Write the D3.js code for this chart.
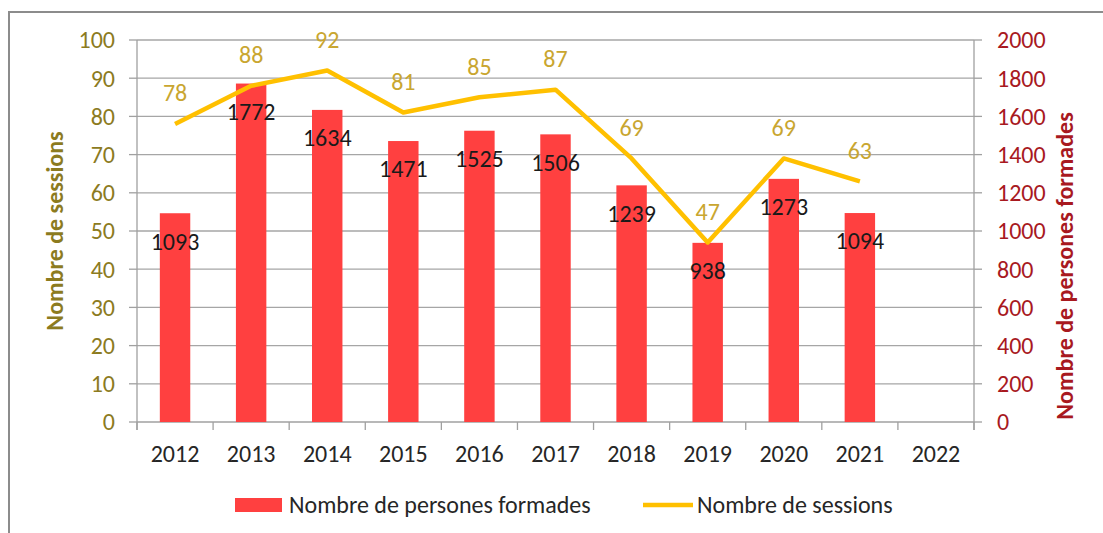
<!DOCTYPE html>
<html>
<head>
<meta charset="utf-8">
<script src="https://cdn.jsdelivr.net/npm/d3@7"></script>
<style>
  body { margin: 0; background: #fff; }
  text { font-family: Carlito, Lato, sans-serif; }
</style>
</head>
<body>
<svg id="chart" width="1103" height="533"></svg>
<script>
// data
let years = ["2012", "2013", "2014", "2015", "2016", "2017", "2018", "2019", "2020", "2021", "2022"]
let personnes = [1093, 1772, 1634, 1471, 1525, 1506, 1239, 938, 1273, 1094, null]
let sessions = [78, 88, 92, 81, 85, 87, 69, 47, 69, 63, null]
let leftTicks = [0, 10, 20, 30, 40, 50, 60, 70, 80, 90, 100]
let rightTicks = [0, 200, 400, 600, 800, 1000, 1200, 1400, 1600, 1800, 2000]

let svg = d3.select("#chart")

let plotLeft = 137, plotRight = 974, plotTop = 40, plotBottom = 422
let fontSize = 24

// outer frame
svg.append("rect")
  .attr("x", 9).attr("y", 12)
  .attr("width", 1120).attr("height", 560)
  .style("fill", "none")
  .style("stroke", "#8c8c8c")
  .style("stroke-width", 2)

let x = d3.scaleBand()
  .domain(years)
  .range([plotLeft, plotRight])
  .paddingInner(0.6)
  .paddingOuter(0.3)

let step = x.step()

let yL = d3.scaleLinear().domain([0, 100]).range([plotBottom, plotTop])
let yR = d3.scaleLinear().domain([0, 2000]).range([plotBottom, plotTop])

// gridlines
svg.append("g")
  .selectAll("line")
  .data(leftTicks.filter(d => d > 0))
  .join("line")
  .attr("x1", plotLeft).attr("x2", plotRight)
  .attr("y1", d => yL(d)).attr("y2", d => yL(d))
  .style("stroke", "#a6a6a6")
  .style("stroke-width", 1.3)

// axes lines
let axisColor = "#a0a0a0"
svg.append("line").attr("x1", plotLeft).attr("x2", plotLeft).attr("y1", plotTop).attr("y2", plotBottom + 8)
  .style("stroke", axisColor).style("stroke-width", 1.3)
svg.append("line").attr("x1", plotRight).attr("x2", plotRight).attr("y1", plotTop).attr("y2", plotBottom + 8)
  .style("stroke", axisColor).style("stroke-width", 1.3)
svg.append("line").attr("x1", plotLeft).attr("x2", plotRight).attr("y1", plotBottom).attr("y2", plotBottom)
  .style("stroke", axisColor).style("stroke-width", 1.3)

// left ticks + labels
let gl = svg.append("g")
gl.selectAll("line")
  .data(leftTicks)
  .join("line")
  .attr("x1", plotLeft - 8).attr("x2", plotLeft)
  .attr("y1", d => yL(d)).attr("y2", d => yL(d))
  .style("stroke", axisColor).style("stroke-width", 1.3)
gl.selectAll("text")
  .data(leftTicks)
  .join("text")
  .attr("x", 115)
  .attr("y", d => yL(d))
  .attr("dy", "0.35em")
  .attr("text-anchor", "end")
  .style("font-size", fontSize + "px")
  .style("fill", "#8c7b1f")
  .text(d => d)

// right ticks + labels
let gr = svg.append("g")
gr.selectAll("line")
  .data(rightTicks)
  .join("line")
  .attr("x1", plotRight).attr("x2", plotRight + 8)
  .attr("y1", d => yR(d)).attr("y2", d => yR(d))
  .style("stroke", axisColor).style("stroke-width", 1.3)
gr.selectAll("text")
  .data(rightTicks)
  .join("text")
  .attr("x", 997)
  .attr("y", d => yR(d))
  .attr("dy", "0.35em")
  .style("font-size", fontSize + "px")
  .style("fill", "#a8191f")
  .text(d => d)

// category ticks at boundaries
let bounds = years.map(d => x(d) + x.bandwidth() / 2 - step / 2)
bounds.push(plotRight)
svg.append("g")
  .selectAll("line")
  .data(bounds)
  .join("line")
  .attr("x1", d => d).attr("x2", d => d)
  .attr("y1", plotBottom).attr("y2", plotBottom + 8)
  .style("stroke", axisColor).style("stroke-width", 1.3)

svg.append("g")
  .selectAll("text")
  .data(years)
  .join("text")
  .attr("x", d => x(d) + x.bandwidth() / 2)
  .attr("y", 462)
  .attr("text-anchor", "middle")
  .style("font-size", fontSize + "px")
  .style("fill", "#262626")
  .text(d => d)

// bars
let barData = years.map((y, i) => ({ year: y, v: personnes[i] })).filter(d => d.v != null)
svg.append("g")
  .selectAll("rect")
  .data(barData)
  .join("rect")
  .attr("x", d => x(d.year))
  .attr("width", x.bandwidth())
  .attr("y", d => yR(d.v))
  .attr("height", d => plotBottom - yR(d.v))
  .style("fill", "#ff4040")

// line
let lineData = years.map((y, i) => ({ year: y, v: sessions[i] })).filter(d => d.v != null)
let line = d3.line()
  .x(d => x(d.year) + x.bandwidth() / 2)
  .y(d => yL(d.v))
svg.append("path")
  .datum(lineData)
  .attr("d", line)
  .style("fill", "none")
  .style("stroke", "#ffc000")
  .style("stroke-width", 4.5)
  .style("stroke-linejoin", "round")

// bar labels
svg.append("g")
  .selectAll("text")
  .data(barData)
  .join("text")
  .attr("x", d => x(d.year) + x.bandwidth() / 2)
  .attr("y", d => yR(d.v) + 28)
  .attr("dy", "0.35em")
  .attr("text-anchor", "middle")
  .style("font-size", fontSize + "px")
  .style("fill", "#1a1a1a")
  .text(d => d.v)

// line labels
svg.append("g")
  .selectAll("text")
  .data(lineData)
  .join("text")
  .attr("x", d => x(d.year) + x.bandwidth() / 2)
  .attr("y", d => yL(d.v) - 31)
  .attr("dy", "0.35em")
  .attr("text-anchor", "middle")
  .style("font-size", fontSize + "px")
  .style("fill", "#c9a630")
  .text(d => d.v)

// axis titles
svg.append("text")
  .attr("transform", `translate(55,${(plotTop + plotBottom) / 2}) rotate(-90)`)
  .attr("dy", "0.35em")
  .attr("text-anchor", "middle")
  .style("font-size", "24px")
  .style("font-weight", "bold")
  .style("fill", "#8c7b1f")
  .text("Nombre de sessions")

svg.append("text")
  .attr("transform", "translate(1065,266) rotate(-90)")
  .attr("dy", "0.35em")
  .attr("text-anchor", "middle")
  .style("font-size", "24px")
  .style("font-weight", "bold")
  .style("fill", "#a8191f")
  .text("Nombre de persones formades")

// legend
let leg = svg.append("g")
leg.append("rect")
  .attr("x", 235).attr("y", 498)
  .attr("width", 47).attr("height", 14)
  .style("fill", "#ff4040")
leg.append("text")
  .attr("x", 289).attr("y", 505)
  .attr("dy", "0.35em")
  .style("font-size", fontSize + "px")
  .style("fill", "#262626")
  .text("Nombre de persones formades")
leg.append("line")
  .attr("x1", 643).attr("x2", 693)
  .attr("y1", 505).attr("y2", 505)
  .style("stroke", "#ffc000")
  .style("stroke-width", 4.5)
leg.append("text")
  .attr("x", 697).attr("y", 505)
  .attr("dy", "0.35em")
  .style("font-size", fontSize + "px")
  .style("fill", "#262626")
  .text("Nombre de sessions")
</script>
</body>
</html>
